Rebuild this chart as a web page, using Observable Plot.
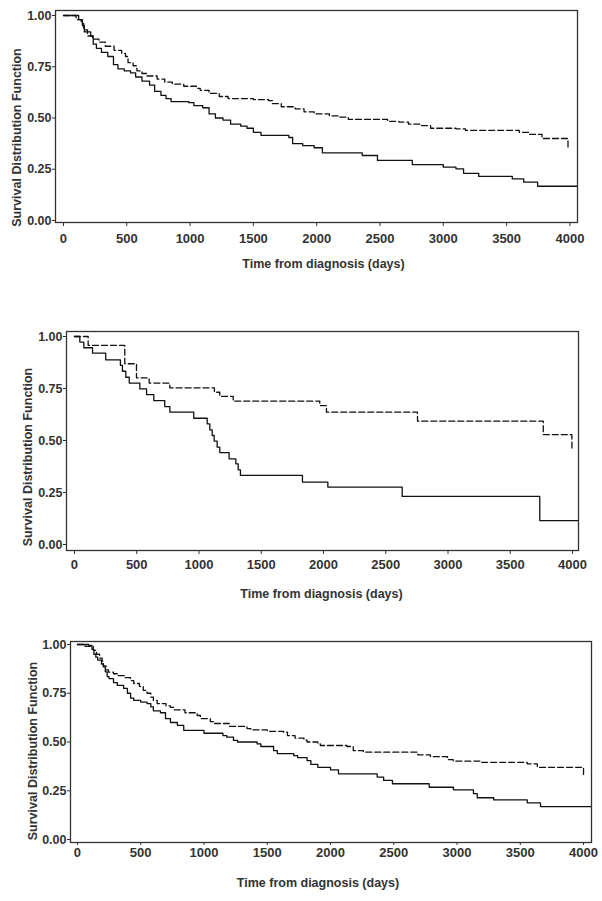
<!DOCTYPE html>
<html><head><meta charset="utf-8">
<script src="https://cdn.jsdelivr.net/npm/d3@7"></script>
<script src="https://cdn.jsdelivr.net/npm/@observablehq/plot@0.6"></script>
<style>
html,body{margin:0;padding:0;background:#fff;}
#wrap{position:relative;width:602px;height:901px;overflow:hidden;}
.panel{position:absolute;left:0;}
</style></head><body><div id="wrap"></div>
<script>
// ---- tick labels & titles ----
const xTicks = [0, 500, 1000, 1500, 2000, 2500, 3000, 3500, 4000];
const yTicks = [0, 0.25, 0.5, 0.75, 1];
const xLabel = "Time from diagnosis (days)";
const yLabel = "Survival Distribution Function";

// ---- panel 1: [day, survival] ----
const p1Solid = [[0,1],[120,0.98],[150,0.95],[165,0.92],[215,0.90],[235,0.86],[260,0.84],[300,0.82],[350,0.80],[395,0.76],[430,0.74],[480,0.73],[530,0.72],[570,0.70],[620,0.68],[680,0.66],[720,0.63],[770,0.61],[810,0.595],[850,0.58],[990,0.575],[1030,0.56],[1100,0.55],[1150,0.52],[1200,0.50],[1260,0.49],[1320,0.47],[1400,0.46],[1450,0.45],[1500,0.43],[1560,0.415],[1780,0.405],[1810,0.375],[1890,0.365],[1980,0.355],[2045,0.33],[2360,0.317],[2480,0.293],[2755,0.273],[3000,0.26],[3100,0.252],[3160,0.23],[3280,0.215],[3545,0.203],[3635,0.187],[3745,0.167],[4060,0.167]];
const p1Dashed = [[0,1],[100,0.98],[140,0.96],[160,0.93],[190,0.90],[230,0.885],[280,0.87],[330,0.85],[400,0.83],[460,0.815],[490,0.80],[510,0.77],[550,0.755],[580,0.73],[620,0.717],[660,0.705],[740,0.69],[800,0.675],[860,0.665],[950,0.655],[1050,0.645],[1080,0.635],[1150,0.62],[1230,0.605],[1300,0.595],[1500,0.59],[1620,0.585],[1650,0.57],[1720,0.555],[1830,0.545],[1900,0.53],[1980,0.52],[2100,0.51],[2170,0.504],[2250,0.493],[2560,0.484],[2650,0.48],[2725,0.47],[2820,0.463],[2900,0.45],[3100,0.447],[3175,0.44],[3600,0.43],[3680,0.42],[3780,0.40],[3985,0.355]];

// ---- panel 2 ----
const p2Solid = [[0,1],[43,0.973],[75,0.946],[145,0.92],[251,0.888],[369,0.861],[385,0.833],[412,0.804],[440,0.776],[525,0.748],[579,0.721],[637,0.692],[725,0.663],[766,0.636],[958,0.607],[1066,0.58],[1087,0.551],[1106,0.524],[1122,0.497],[1146,0.468],[1167,0.442],[1242,0.412],[1296,0.388],[1315,0.359],[1333,0.332],[1831,0.30],[2035,0.276],[2632,0.231],[3737,0.115],[4048,0.115]];
const p2Dashed = [[0,1],[110,0.957],[404,0.869],[498,0.801],[600,0.776],[766,0.753],[1124,0.732],[1167,0.712],[1275,0.689],[1970,0.668],[2024,0.636],[2755,0.593],[3765,0.528],[3995,0.452]];

// ---- panel 3 ----
const p3Solid = [[0,1],[89,0.995],[115,0.975],[130,0.95],[145,0.935],[160,0.92],[190,0.90],[205,0.885],[220,0.86],[235,0.835],[250,0.825],[285,0.805],[315,0.79],[365,0.775],[395,0.75],[420,0.725],[445,0.713],[500,0.705],[550,0.697],[580,0.68],[600,0.66],[656,0.65],[696,0.62],[735,0.60],[790,0.585],[840,0.56],[1000,0.545],[1150,0.533],[1180,0.525],[1233,0.508],[1265,0.50],[1420,0.49],[1450,0.477],[1550,0.456],[1580,0.44],[1710,0.43],[1740,0.42],[1815,0.405],[1845,0.385],[1900,0.37],[2000,0.357],[2063,0.337],[2369,0.32],[2420,0.303],[2490,0.286],[2780,0.268],[2972,0.255],[3130,0.235],[3160,0.214],[3290,0.203],[3555,0.188],[3660,0.169],[4063,0.169]];
const p3Dashed = [[0,1],[60,0.99],[125,0.97],[150,0.95],[175,0.93],[195,0.915],[205,0.89],[225,0.87],[245,0.858],[285,0.85],[315,0.84],[370,0.83],[420,0.815],[445,0.80],[490,0.785],[520,0.765],[550,0.75],[580,0.73],[600,0.713],[630,0.697],[700,0.685],[735,0.678],[760,0.665],[850,0.65],[946,0.636],[972,0.62],[1050,0.605],[1080,0.595],[1200,0.58],[1340,0.569],[1370,0.562],[1500,0.555],[1630,0.55],[1660,0.533],[1720,0.52],[1790,0.51],[1815,0.5],[1900,0.49],[1920,0.482],[2130,0.477],[2180,0.456],[2260,0.448],[2690,0.434],[2790,0.425],[2925,0.41],[2970,0.402],[3185,0.396],[3555,0.388],[3635,0.37],[4000,0.328]];

const FONT = "'Liberation Sans', Arial, Helvetica, sans-serif";
const INK = "#333";

function panel(cfg) {
  const fmtX = d3.format("d");
  const fmtY = d3.format(".2f");
  const chart = Plot.plot({
    width: 602,
    height: cfg.height,
    marginTop: cfg.mt, marginRight: cfg.mr, marginBottom: cfg.mb, marginLeft: cfg.ml,
    style: {fontFamily: FONT, fontSize: "13px", fontWeight: "bold", color: INK, background: "white", overflow: "visible"},
    x: {domain: cfg.xd},
    y: {domain: cfg.yd},
    marks: [
      Plot.axisX({ticks: xTicks, tickFormat: fmtX, tickSize: cfg.xts, tickPadding: cfg.xtp, label: null, fontSize: 13, fontWeight: "bold"}),
      Plot.axisY({ticks: yTicks, tickFormat: fmtY, tickSize: 3, tickPadding: 1, label: null, fontSize: 12.5, fontWeight: "bold"}),
      Plot.line(cfg.solid, {x: d => d[0], y: d => d[1], curve: "step-after", stroke: "#111", strokeWidth: 1.3}),
      Plot.line(cfg.dashed, {x: d => d[0], y: d => d[1], curve: "step-after", stroke: "#111", strokeWidth: 1.3, strokeDasharray: "6,3"}),
      Plot.frame({stroke: INK, strokeWidth: 1.3}),
      Plot.text([xLabel], {text: d => d, frameAnchor: "bottom", textAnchor: "middle", dx: cfg.xldx, dy: cfg.xldy, fontSize: 12.5, fontWeight: "bold", fill: INK}),
      Plot.text([yLabel], {text: d => d, frameAnchor: "left", textAnchor: "middle", lineAnchor: "middle", rotate: -90, dx: cfg.yldx, dy: cfg.yldy, fontSize: 12.5, fontWeight: "bold", fill: INK})
    ]
  });
  chart.classList.add("panel");
  chart.style.top = cfg.top + "px";
  document.getElementById("wrap").appendChild(chart);
}

// panel 1: frame x 55..577, y 10..222 ; 1.0 -> 15, 0 -> 220
panel({top: 0, height: 280, mt: 10, mr: 25, mb: 58, ml: 55,
  xd: [-63, 4060], yd: [-2/205, 1 + 5/205], xts: 4, xtp: 7,
  xldx: 7, xldy: 45, yldx: -39, yldy: 21, solid: p1Solid, dashed: p1Dashed});
// panel 2: frame x 66..578, y 331..550 ; 1.0 -> 336, 0 -> 544
panel({top: 300, height: 310, mt: 31, mr: 24, mb: 60, ml: 66,
  xd: [-64, 4048], yd: [-6/208, 1 + 5/208], xts: 4, xtp: 5,
  xldx: -1, xldy: 47, yldx: -39, yldy: 16, solid: p2Solid, dashed: p2Dashed});
// panel 3: frame x 70..591, y 641..842 ; 1.0 -> 644, 0 -> 839
panel({top: 620, height: 281, mt: 21, mr: 11, mb: 59, ml: 70,
  xd: [-55, 4063], yd: [-3/195, 1 + 3/195], xts: 3, xtp: 2,
  xldx: -13, xldy: 44, yldx: -37.5, yldy: 9, solid: p3Solid, dashed: p3Dashed});
</script>
</body></html>
